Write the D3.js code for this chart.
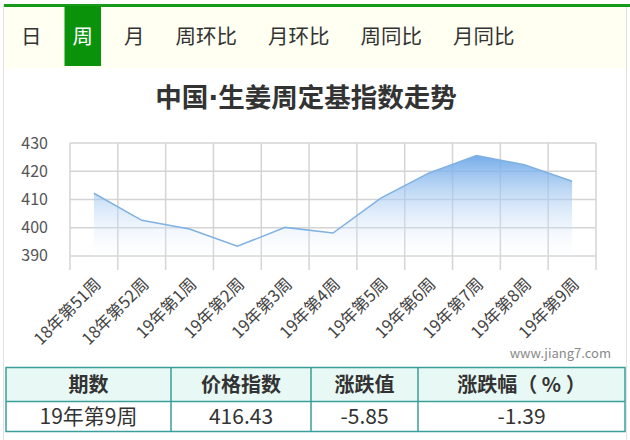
<!DOCTYPE html>
<html>
<head>
<meta charset="utf-8">
<script src="https://cdn.jsdelivr.net/npm/d3@7"></script>
<style>
  body { margin: 0; background: #fff; }
  svg text { font-family: "Microsoft YaHei", "Noto Sans CJK SC", sans-serif; }
</style>
</head>
<body>
<div id="chart"></div>
<script>
var tabs = ['日', '周', '月', '周环比', '月环比', '周同比', '月同比'];
var activeTab = '周';
var titleParts = ['中国', '·', '生姜周定基指数走势'];
var weeks = ['18年第51周', '18年第52周', '19年第1周', '19年第2周', '19年第3周', '19年第4周',
  '19年第5周', '19年第6周', '19年第7周', '19年第8周', '19年第9周'];
var indexValues = [412.2, 402.6, 399.5, 393.4, 400.1, 398.1, 410.5, 419.3, 425.6, 422.28, 416.43];
var yTicks = [390, 400, 410, 420, 430];
var tableHead = ['期数', '价格指数', '涨跌值', '涨跌幅（ % ）'];
var tableRow = ['19年第9周', '416.43', '-5.85', '-1.39'];

var W = 630, H = 440;
var svg = d3.select('#chart').append('svg').attr('width', W).attr('height', H);

// panel
svg.append('rect').attr('x', 3.5).attr('y', 4.5).attr('width', 623).attr('height', 440)
  .attr('fill', '#fff').attr('stroke', '#e2e2e2');
svg.append('rect').attr('x', 4).attr('y', 6).attr('width', 622).attr('height', 62).attr('fill', '#fffff2');
svg.append('rect').attr('x', 4).attr('y', 4).attr('width', 626).attr('height', 3).attr('fill', '#1a9a1a');

// tabs
var tx = 13;
tabs.forEach(function(t) {
  var g = svg.append('g');
  var bg = g.append('rect').attr('y', 6).attr('height', 60).attr('fill', t == activeTab ? '#0a930a' : 'none');
  var txt = g.append('text').attr('y', 37).attr('dy', '0.35em').attr('font-size', 20.5)
    .attr('fill', t == activeTab ? '#fff' : '#333').text(t);
  var w = txt.node().getComputedTextLength();
  bg.attr('x', tx).attr('width', w + 16);
  txt.attr('x', tx + 8);
  tx += w + 16 + 15;
});

// title
var title = svg.append('text').attr('x', 306).attr('y', 98).attr('dy', '0.35em').attr('text-anchor', 'middle')
  .attr('font-size', 26.5).attr('font-weight', 'bold').attr('fill', '#333');
title.selectAll('tspan').data(titleParts).enter().append('tspan')
  .style('font-family', function(d, i) { return i == 1 ? 'DejaVu Sans' : null; })
  .text(function(d) { return d; });

// chart
var x = d3.scaleBand().domain(weeks).range([70, 596]);
var y = d3.scaleLinear().domain([385, 430]).range([270, 143]);

var defs = svg.append('defs');
var grad = defs.append('linearGradient').attr('id', 'fillGrad').attr('gradientUnits', 'userSpaceOnUse')
  .attr('x1', 0).attr('x2', 0).attr('y1', y(426)).attr('y2', y(387));
grad.append('stop').attr('offset', '0%').attr('stop-color', '#6aa6e8').attr('stop-opacity', 0.95);
grad.append('stop').attr('offset', '100%').attr('stop-color', '#ffffff').attr('stop-opacity', 0);

// grid
svg.append('g').selectAll('line').data(yTicks).enter().append('line')
  .attr('x1', 70).attr('x2', 596).attr('y1', function(d) { return y(d); }).attr('y2', function(d) { return y(d); })
  .attr('stroke', '#d4d4d4').attr('stroke-width', 1.5);
var vx = weeks.map(function(d) { return x(d); }).concat([x.range()[1]]);
svg.append('g').selectAll('line').data(vx).enter().append('line')
  .attr('x1', function(d) { return d; }).attr('x2', function(d) { return d; })
  .attr('y1', y(430)).attr('y2', 270)
  .attr('stroke', '#d4d4d4').attr('stroke-width', 1.5);

var cx = function(d, i) { return x(weeks[i]) + x.bandwidth() / 2; };
var area = d3.area().x(cx).y0(y(385)).y1(function(d) { return y(d); });
var line = d3.line().x(cx).y(function(d) { return y(d); });
svg.append('path').datum(indexValues).attr('d', area).attr('fill', 'url(#fillGrad)');
svg.append('path').datum(indexValues).attr('d', line).attr('fill', 'none')
  .attr('stroke', '#7fb1e2').attr('stroke-width', 1.5);

// y labels
svg.append('g').selectAll('text').data(yTicks).enter().append('text')
  .attr('x', 48).attr('y', function(d) { return y(d); }).attr('dy', '0.35em')
  .attr('text-anchor', 'end').attr('font-size', 16).attr('fill', '#555')
  .text(function(d) { return d; });

// x labels
svg.append('g').selectAll('text').data(weeks).enter().append('text')
  .attr('text-anchor', 'end').attr('font-size', 16.5).attr('fill', '#444')
  .attr('transform', function(d) { return 'translate(' + (x(d) + x.bandwidth() / 2 + 4) + ',281) rotate(-45)'; })
  .attr('dy', '0.35em')
  .text(function(d) { return d; });

// watermark
svg.append('text').attr('x', 611).attr('y', 358).attr('text-anchor', 'end')
  .attr('font-size', 13).attr('fill', '#8a8a8a').text('www.jiang7.com');

// table
var colX = [6, 171, 311, 418, 625];
var rowY = [367.5, 401.5, 431.5];
svg.append('rect').attr('x', colX[0]).attr('y', rowY[0]).attr('width', colX[4] - colX[0])
  .attr('height', rowY[1] - rowY[0]).attr('fill', '#e8f8f4');
[tableHead, tableRow].forEach(function(row, r) {
  svg.append('g').selectAll('text').data(row).enter().append('text')
    .attr('x', function(d, i) { return (colX[i] + colX[i + 1]) / 2; })
    .attr('y', (rowY[r] + rowY[r + 1]) / 2).attr('dy', '0.35em').attr('text-anchor', 'middle')
    .attr('font-size', r == 0 ? 20 : 21).attr('font-weight', r == 0 ? 'bold' : 'normal').attr('fill', '#333')
    .text(function(d) { return d; });
});
var tb = svg.append('g').attr('stroke', '#3a9e9a').attr('stroke-width', 1.5).attr('fill', 'none');
tb.append('rect').attr('x', colX[0]).attr('y', rowY[0]).attr('width', colX[4] - colX[0]).attr('height', rowY[2] - rowY[0]);
tb.append('line').attr('x1', colX[0]).attr('x2', colX[4]).attr('y1', rowY[1]).attr('y2', rowY[1]);
colX.slice(1, 4).forEach(function(c) {
  tb.append('line').attr('x1', c).attr('x2', c).attr('y1', rowY[0]).attr('y2', rowY[2]);
});
</script>
</body>
</html>
